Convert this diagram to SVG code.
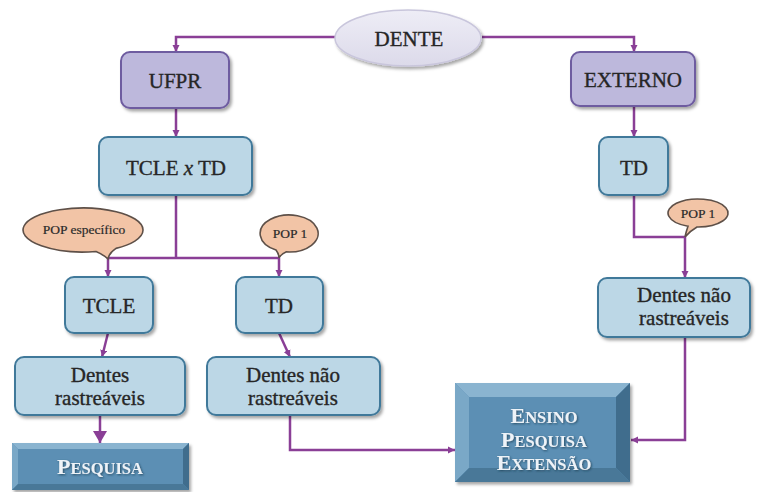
<svg xmlns="http://www.w3.org/2000/svg" width="764" height="492" viewBox="0 0 764 492">
<defs>
<style>
.t{font-family:"Liberation Serif","Times New Roman",serif;fill:#262626;stroke:#262626;stroke-width:0.35;text-anchor:middle;font-size:21px}
.p{font-family:"Liberation Serif","Times New Roman",serif;fill:#2a2a2a;stroke:#2a2a2a;stroke-width:0.2;text-anchor:middle;font-size:13.5px}
.w{font-family:"Liberation Serif","Times New Roman",serif;fill:#eef3f8;text-anchor:middle;font-weight:bold;font-size:22px}
.blue{fill:#bcd7e6;stroke:#41799a;stroke-width:2}
.purp{fill:#bdb8dc;stroke:#6e5ca0;stroke-width:2}
.call{fill:#f2c4a6;stroke:#5e5048;stroke-width:1.6}
.c{fill:none;stroke:#8a3f96;stroke-width:2.5}
</style>
<filter id="sh" x="-10%" y="-10%" width="130%" height="140%">
<feDropShadow dx="2" dy="2.5" stdDeviation="1.5" flood-color="#000" flood-opacity="0.35"/>
</filter>
<filter id="ts" x="-10%" y="-20%" width="130%" height="150%">
<feDropShadow dx="1" dy="1" stdDeviation="0.8" flood-color="#1d3a4f" flood-opacity="0.8"/>
</filter>
<linearGradient id="eg" x1="0" y1="0" x2="0" y2="1">
<stop offset="0" stop-color="#eeedf6"/>
<stop offset="1" stop-color="#dcdaea"/>
</linearGradient>
<marker id="a" markerUnits="userSpaceOnUse" markerWidth="8" markerHeight="8" refX="7" refY="4" orient="auto">
<path d="M0,0.5 L7,4 L0,7.5 Z" fill="#8a3f96"/>
</marker>
<marker id="ab" markerUnits="userSpaceOnUse" markerWidth="14" markerHeight="14" refX="12" refY="7" orient="auto">
<path d="M0,0 L12,7 L0,14 Z" fill="#8a3f96"/>
</marker>
</defs>
<rect width="764" height="492" fill="#ffffff"/>

<g id="connectors">
<path class="c" d="M335,37 H176 V52" marker-end="url(#a)"/>
<path class="c" d="M482,37 H634 V52" marker-end="url(#a)"/>
<path class="c" d="M176,108 V137" marker-end="url(#a)"/>
<path class="c" d="M634,106 V137" marker-end="url(#a)"/>
<path class="c" d="M176,195 V258"/>
<path class="c" d="M108,258 H279"/>
<path class="c" d="M108,258 V277" marker-end="url(#a)"/>
<path class="c" d="M279,258 V277" marker-end="url(#a)"/>
<path class="c" d="M108,333 L102,357" marker-end="url(#a)"/>
<path class="c" d="M279,333 L290,357" marker-end="url(#a)"/>
<path class="c" d="M100,415 V443" stroke-width="4" marker-end="url(#ab)"/>
<path class="c" d="M290,415 V450 H455" marker-end="url(#a)"/>
<path class="c" d="M634,195 V237 H685 V278" marker-end="url(#a)"/>
<path class="c" d="M685,337 V440 H631" marker-end="url(#a)"/>
</g>

<g id="dente">
<ellipse cx="408" cy="38" rx="73" ry="28" fill="url(#eg)" stroke="#c9c6dc" stroke-width="1.5" filter="url(#sh)"/>
<text class="t" x="409" y="46">DENTE</text>
</g>

<g id="ufpr">
<rect class="purp" x="121" y="52" width="108" height="56" rx="9" filter="url(#sh)"/>
<text class="t" x="175" y="88">UFPR</text>
</g>

<g id="externo">
<rect class="purp" x="571" y="52" width="124" height="54" rx="9" filter="url(#sh)"/>
<text class="t" x="633" y="87">EXTERNO</text>
</g>

<g id="tcle-x-td">
<rect class="blue" x="99" y="137" width="153" height="58" rx="9" filter="url(#sh)"/>
<text class="t" x="176" y="175">TCLE <tspan font-style="italic">x</tspan> TD</text>
</g>

<g id="td-right">
<rect class="blue" x="599" y="137" width="69" height="58" rx="9" filter="url(#sh)"/>
<text class="t" x="634" y="175">TD</text>
</g>

<g id="pop-especifico">
<path class="call" d="M116,248.4 A60,22 0 1 0 96,251.5 Q104,255 108,259 Q109,253 116,248.4 Z"/>
<text class="p" x="84" y="234" font-size="14">POP específico</text>
</g>

<g id="pop1-mid">
<path class="call" d="M286,251.9 A29,18.5 0 1 0 276,250 Q279,254 279,258 Q281,254 286,251.9 Z"/>
<text class="p" x="290" y="238">POP 1</text>
</g>

<g id="pop1-right">
<path class="call" d="M697,227 A30,14 0 1 0 688,226.2 Q686,232 685,237 Q690,231 697,227 Z"/>
<text class="p" x="698" y="218">POP 1</text>
</g>

<g id="tcle">
<rect class="blue" x="65" y="277" width="88" height="56" rx="9" filter="url(#sh)"/>
<text class="t" x="109" y="313">TCLE</text>
</g>

<g id="td-mid">
<rect class="blue" x="236" y="277" width="87" height="56" rx="9" filter="url(#sh)"/>
<text class="t" x="279" y="313">TD</text>
</g>

<g id="dentes-rastreaveis">
<rect class="blue" x="15" y="357" width="170" height="58" rx="9" filter="url(#sh)"/>
<text class="t" x="100" y="382">Dentes</text>
<text class="t" x="100" y="405">rastreáveis</text>
</g>

<g id="dentes-nao-mid">
<rect class="blue" x="207" y="357" width="173" height="58" rx="9" filter="url(#sh)"/>
<text class="t" x="293" y="382">Dentes não</text>
<text class="t" x="293" y="405">rastreáveis</text>
</g>

<g id="dentes-nao-right">
<rect class="blue" x="598" y="278" width="152" height="59" rx="9" filter="url(#sh)"/>
<text class="t" x="684" y="302">Dentes não</text>
<text class="t" x="684" y="325">rastreáveis</text>
</g>

<g id="pesquisa">
<g filter="url(#sh)">
<rect x="12" y="443" width="177" height="47" fill="#5b8fb4"/>
<polygon points="12,443 189,443 183,449 18,449" fill="#8ab4d0"/>
<polygon points="12,443 18,449 18,484 12,490" fill="#7aa8c7"/>
<polygon points="189,443 189,490 183,484 183,449" fill="#3f6d8d"/>
<polygon points="12,490 189,490 183,484 18,484" fill="#497898"/>
</g>
<text class="w" x="100" y="474" filter="url(#ts)">P<tspan font-size="16.5">ESQUISA</tspan></text>
</g>

<g id="ensino-pesquisa-extensao">
<g filter="url(#sh)">
<rect x="455" y="383" width="175" height="99" fill="#5b8fb4"/>
<polygon points="455,383 630,383 616,397 469,397" fill="#8ab4d0"/>
<polygon points="455,383 469,397 469,468 455,482" fill="#7aa8c7"/>
<polygon points="630,383 630,482 616,468 616,397" fill="#3f6d8d"/>
<polygon points="455,482 630,482 616,468 469,468" fill="#497898"/>
</g>
<text class="w" x="544" y="423" filter="url(#ts)">E<tspan font-size="16.5">NSINO</tspan></text>
<text class="w" x="544" y="447" filter="url(#ts)">P<tspan font-size="16.5">ESQUISA</tspan></text>
<text class="w" x="544" y="470" filter="url(#ts)">E<tspan font-size="16.5">XTENSÃO</tspan></text>
</g>
</svg>
